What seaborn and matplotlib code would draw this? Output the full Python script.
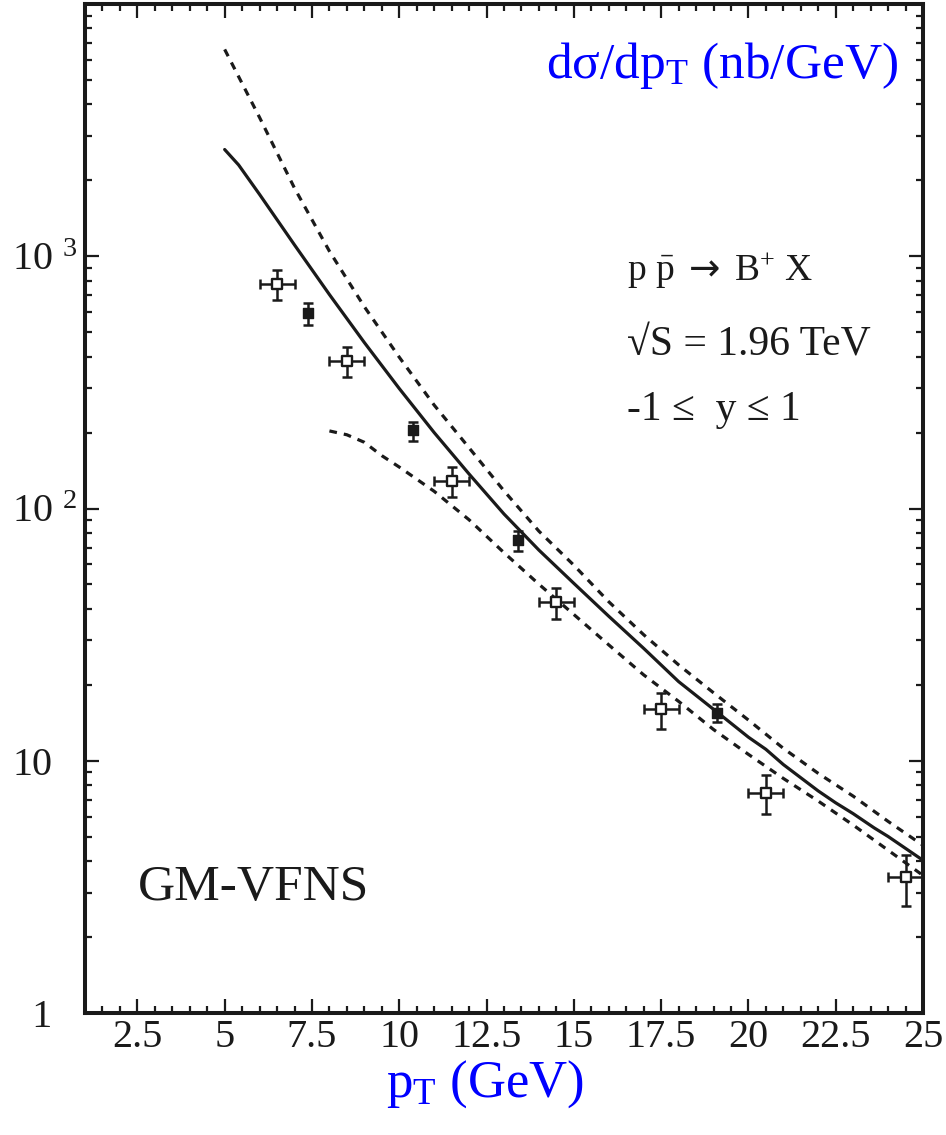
import numpy as np
import pandas as pd
import matplotlib
matplotlib.use("Agg")
import matplotlib.pyplot as plt
import seaborn as sns
from matplotlib.ticker import FixedLocator, LogLocator, MultipleLocator, NullFormatter

# GM-VFNS theory curves
pt_central = [5.0, 5.4, 6, 7, 8, 9, 10, 11, 12, 13, 14, 15, 16, 17, 18, 19, 20, 20.5, 21, 22, 22.5, 23, 23.6, 24, 25]
xs_central = [2649, 2301, 1758, 1109, 705, 455, 299, 200, 137, 95.1, 68.4, 50.5, 37.4, 27.9, 20.6, 16.0, 12.4, 11.1, 9.66, 7.59, 6.81, 6.17, 5.42, 5.01, 4.03]

pt_upper = [5, 6, 7, 8, 9, 10, 11, 12, 13, 14, 15, 16, 17, 18, 19, 20, 21, 22, 23, 24, 25]
xs_upper = [6607, 3548, 1862, 1047, 631, 398, 257, 174, 117.5, 81.3, 59.6, 42.7, 31.6, 24.0, 18.6, 14.5, 11.2, 8.91, 7.24, 5.75, 4.62]

pt_lower = [8.0, 8.5, 9, 9.5, 10, 11, 12, 13, 14, 15, 16, 17, 18, 19, 20, 21, 22, 23, 24, 25]
xs_lower = [203, 196, 183, 162, 146, 117, 90.2, 66.8, 50.1, 38.0, 28.8, 21.9, 17.2, 13.3, 10.6, 8.51, 6.92, 5.56, 4.42, 3.51]

# data, open squares (with pT bins)
pt_open = [6.5, 8.5, 11.5, 14.5, 17.5, 20.5, 24.5]
xs_open = [774, 384, 129, 42.7, 16.0, 7.42, 3.45]
hi_open = [880, 436, 146, 48.5, 18.5, 8.75, 4.22]
lo_open = [669, 332, 111, 36.6, 13.4, 6.13, 2.65]
bin_half = [0.5, 0.5, 0.5, 0.5, 0.5, 0.5, 0.5]

# data, filled squares
pt_fill = [7.4, 10.4, 13.4, 19.1]
xs_fill = [594, 205, 75, 15.5]
hi_fill = [651, 220, 81.5, 16.8]
lo_fill = [533, 186, 68, 14.2]

xticks = [2.5, 5, 7.5, 10, 12.5, 15, 17.5, 20, 22.5, 25]
xtick_labels = ["2.5", "5", "7.5", "10", "12.5", "15", "17.5", "20", "22.5", "25"]
yticks = [1, 10, 100, 1000]
ytick_labels = ["  1", "10", "10 $^{2}$", "10 $^{3}$"]

sns.set_theme(style="ticks", rc={"axes.edgecolor": "k", "xtick.color": "k", "ytick.color": "k",
                                 "text.color": "k", "axes.labelcolor": "k"})
plt.rcParams['font.family'] = ['Liberation Serif', 'DejaVu Serif']
plt.rcParams['mathtext.fontset'] = 'custom'
plt.rcParams['mathtext.rm'] = 'Liberation Serif'
plt.rcParams['mathtext.it'] = 'Liberation Serif:italic'
plt.rcParams['mathtext.bf'] = 'Liberation Serif:bold'
plt.rcParams['mathtext.sf'] = 'DejaVu Sans'

fig = plt.figure(figsize=(9.46, 11.35), dpi=100)
ax = fig.add_axes([85 / 946, 122 / 1135, 838 / 946, 1009 / 1135])
ax.set_yscale('log')

# theory
sns.lineplot(x=pt_central, y=xs_central, ax=ax, color='k', lw=2.3, sort=False)
sns.lineplot(x=pt_upper, y=xs_upper, ax=ax, color='k', lw=2.3, sort=False,
             linestyle=(0, (2.4, 2.2)))
sns.lineplot(x=pt_lower, y=xs_lower, ax=ax, color='k', lw=2.3, sort=False,
             linestyle=(0, (2.4, 2.2)))

# data
yerr_open = [np.array(xs_open) - np.array(lo_open), np.array(hi_open) - np.array(xs_open)]
ax.errorbar(pt_open, xs_open, xerr=bin_half, yerr=yerr_open, fmt='none',
            ecolor='k', elinewidth=1.8, capsize=3.6, capthick=1.8, zorder=4)
yerr_fill = [np.array(xs_fill) - np.array(lo_fill), np.array(hi_fill) - np.array(xs_fill)]
ax.errorbar(pt_fill, xs_fill, yerr=yerr_fill, fmt='none',
            ecolor='k', elinewidth=1.8, capsize=3.6, capthick=1.8, zorder=4)
sns.scatterplot(x=pt_open, y=xs_open, ax=ax, marker='s', s=56, color='white',
                edgecolor='k', linewidth=1.7, zorder=5)
sns.scatterplot(x=pt_fill, y=xs_fill, ax=ax, marker='s', s=42, color='k',
                edgecolor='k', linewidth=1.0, zorder=5)

ax.set_xlim(1, 25)
ax.set_ylim(1, 1e4)

# axes cosmetics
for sp in ax.spines.values():
    sp.set_linewidth(2.9)
    sp.set_color('k')
    sp.set_visible(True)
ax.xaxis.set_major_locator(FixedLocator(xticks))
ax.set_xticklabels(xtick_labels)
ax.xaxis.set_minor_locator(MultipleLocator(0.5))
ax.yaxis.set_major_locator(FixedLocator(yticks))
ax.set_yticklabels(ytick_labels, ha='left')
ax.yaxis.set_minor_locator(LogLocator(base=10, subs=np.arange(2, 10)))
ax.yaxis.set_minor_formatter(NullFormatter())
ax.tick_params(which='both', direction='in', top=True, right=True, width=1.6,
               colors='k', labelsize=29)
ax.tick_params(which='major', length=10)
ax.tick_params(which='minor', length=5)
ax.tick_params(axis='y', pad=52.5)
ax.tick_params(axis='x', pad=4)
ax.grid(False)

ax.set_xlabel(r"p$_{\mathrm{T}}$ (GeV)", color='blue', fontsize=38)
ax.xaxis.set_label_coords(0.477, -0.045)
ax.set_ylabel("")
ax.text(0.970, 0.9267, "d\u03c3/dp$_{\\mathrm{T}}$ (nb/GeV)",
        transform=ax.transAxes, color='blue', fontsize=37, ha='right', va='baseline')

ax.text(0.647, 0.7265, r"p $\bar{\mathrm{p}}\ \mathsf{\rightarrow}\ $B$^{+}$ X", transform=ax.transAxes,
        fontsize=27, ha='left', va='baseline')
ax.text(0.647, 0.652, "\u221aS = 1.96 TeV", transform=ax.transAxes,
        fontsize=30, ha='left', va='baseline')
ax.text(0.647, 0.588, "-1 \u2264  y \u2264 1", transform=ax.transAxes,
        fontsize=30, ha='left', va='baseline')
ax.text(0.063, 0.112, "GM-VFNS", transform=ax.transAxes,
        fontsize=37, ha='left', va='baseline')

fig.savefig("out.png", dpi=100)
